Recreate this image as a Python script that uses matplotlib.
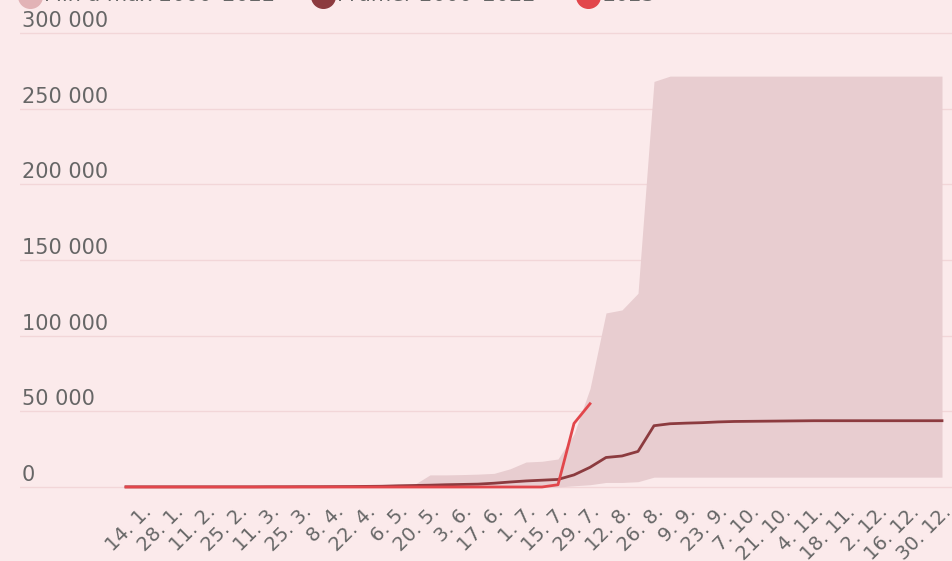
import matplotlib.pyplot as plt
from matplotlib.lines import Line2D

# weekly points, 7. 1. .. 30. 12.
dates = ["7. 1.", "14. 1.", "21. 1.", "28. 1.", "4. 2.", "11. 2.", "18. 2.", "25. 2.",
         "4. 3.", "11. 3.", "18. 3.", "25. 3.", "1. 4.", "8. 4.", "15. 4.", "22. 4.",
         "29. 4.", "6. 5.", "13. 5.", "20. 5.", "27. 5.", "3. 6.", "10. 6.", "17. 6.",
         "24. 6.", "1. 7.", "8. 7.", "15. 7.", "22. 7.", "29. 7.", "5. 8.", "12. 8.",
         "19. 8.", "26. 8.", "2. 9.", "9. 9.", "16. 9.", "23. 9.", "30. 9.", "7. 10.",
         "14. 10.", "21. 10.", "28. 10.", "4. 11.", "11. 11.", "18. 11.", "25. 11.",
         "2. 12.", "9. 12.", "16. 12.", "23. 12.", "30. 12."]

max_vals = [300, 300, 300, 300, 300, 300, 300, 300, 300, 300, 300, 300, 300, 300, 300, 300,
            300, 300, 1500, 8000, 8000, 8200, 8500, 9000, 12000, 16500, 17000, 18500,
            35000, 65000, 115000, 117000, 128000, 268000, 271500, 271500, 271500, 271500,
            271500, 271500, 271500, 271500, 271500, 271500, 271500, 271500, 271500,
            271500, 271500, 271500, 271500, 271500]
min_vals = [0] * 28 + [800, 1500, 3000, 3000, 3500] + [6500] * 19
mean_vals = [100, 100, 100, 100, 100, 100, 100, 100, 100, 150, 150, 200, 200, 250, 300, 400,
             500, 800, 1000, 1200, 1500, 1700, 1900, 2500, 3300, 4000, 4500, 5000, 8000,
             13000, 19500, 20500, 23500, 40500, 41800, 42200, 42500, 43000, 43300, 43400,
             43500, 43600, 43700, 43800, 43800, 43800, 43800, 43800, 43800, 43800, 43800,
             43800]
cur_vals = [0] * 27 + [1500, 42000, 55000]

legend_labels = ["Min a max 2000–2022", "Průměr 2000–2022", "2023"]
yticks = [0, 50000, 100000, 150000, 200000, 250000, 300000]

bg = "#fbeaeb"
band_col = "#e8cdd0"
mean_col = "#8c3b3f"
cur_col = "#e2464b"
txt_col = "#666666"

W, H = 953, 561
fig = plt.figure(figsize=(W / 100, H / 100), dpi=100, facecolor=bg)

# axes span the full gridline width; data x 0..51 -> pixels 126..942
px_per = 16.0
x_left = (20 - 126) / px_per
x_right = (953 - 126) / px_per
y_per_px = 300000 / 454
ax = fig.add_axes([20 / W, (H - 495) / H, 933 / W, 470 / H])
ax.set_facecolor(bg)
ax.set_xlim(x_left, x_right)
ax.set_ylim(-8 * y_per_px, 300000 + 8 * y_per_px)
for s in ax.spines.values():
    s.set_visible(False)

for v in yticks:
    ax.axhline(v, color="#f2d6d8", lw=1, zorder=0)
    ax.text(x_left + 2 / px_per, v + 2 * y_per_px, f"{v:,}".replace(",", " "),
            ha="left", va="bottom", fontsize=15, color=txt_col)
ax.set_yticks([])

xs = list(range(len(dates)))
ax.fill_between(xs, min_vals, max_vals, color=band_col, lw=0, zorder=1)
ax.plot(xs, mean_vals, color=mean_col, lw=2, zorder=3)
ax.plot(xs[:len(cur_vals)], cur_vals, color=cur_col, lw=2, zorder=4)

tick_idx = list(range(1, len(dates), 2))
ax.set_xticks(tick_idx)
ax.set_xticklabels([dates[i] for i in tick_idx], rotation=45, ha="right",
                   rotation_mode="anchor", fontsize=14, color=txt_col)
ax.tick_params(axis="x", length=0, pad=5)

# legend at the top edge (mostly cut off, as in the source)
leg_x = [30, 323, 588]
leg_cols = ["#e2b3b6", mean_col, cur_col]
for lx, lc, lab in zip(leg_x, leg_cols, legend_labels):
    fig.add_artist(Line2D([lx / W], [1 + 4 / H], marker="o", markersize=17,
                          color=lc, lw=0, transform=fig.transFigure))
    fig.text((lx + 14) / W, 1 + 5 / H, lab, ha="left", va="center",
             fontsize=15, color=txt_col)

fig.savefig("out.png", dpi=100, facecolor=bg)
